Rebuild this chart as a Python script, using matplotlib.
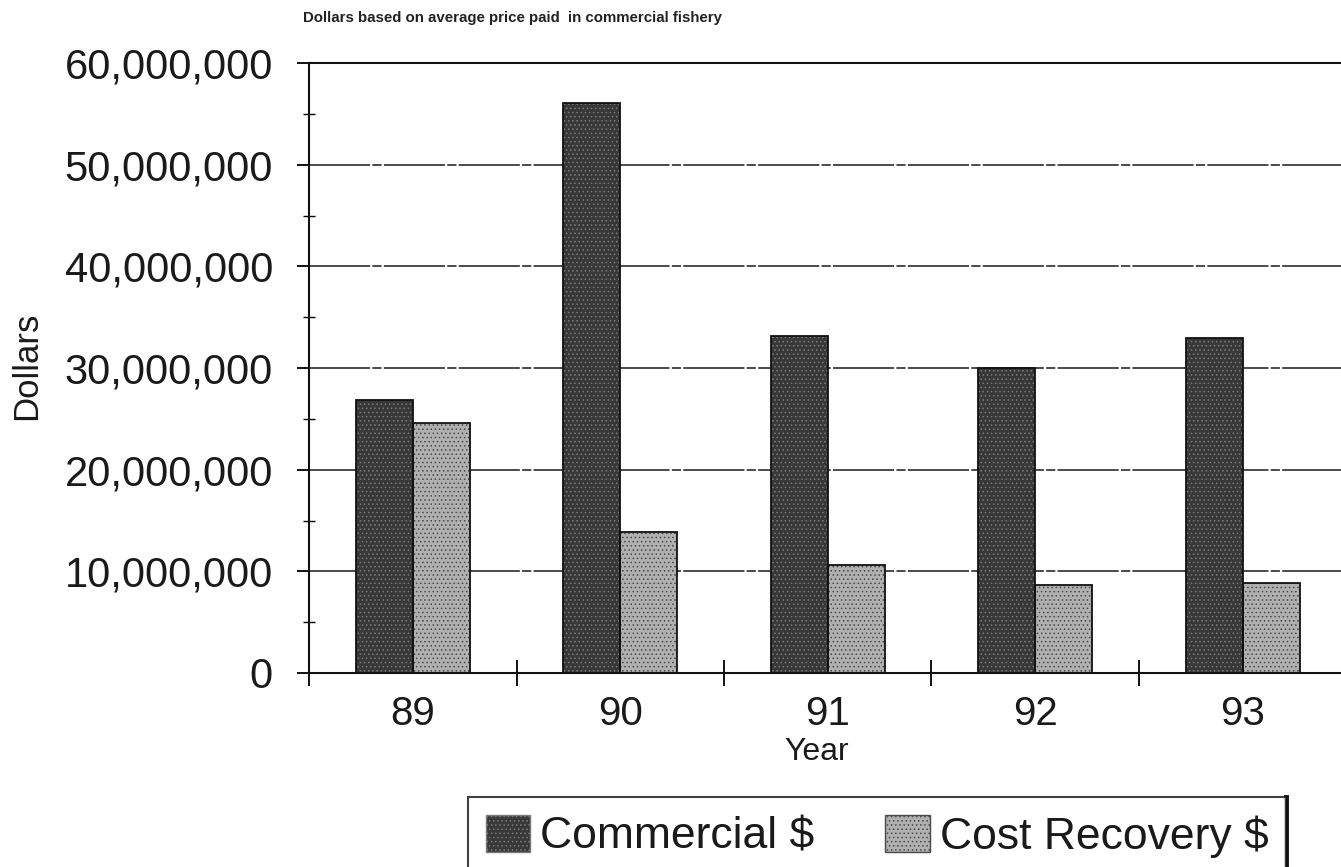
import numpy as np
import matplotlib
matplotlib.use("Agg")
from matplotlib import pyplot as plt
from matplotlib.ticker import FixedLocator, FuncFormatter
from matplotlib.patches import Patch

# data (dollars)
years = ["89", "90", "91", "92", "93"]
commercial = [26.9e6, 56.1e6, 33.1e6, 30.0e6, 33.0e6]
cost_recovery = [24.6e6, 13.9e6, 10.6e6, 8.65e6, 8.85e6]

plt.rcParams['font.family'] = ['Liberation Sans', 'DejaVu Sans']
plt.rcParams['hatch.linewidth'] = 0.6

W, H = 1341, 867
fig = plt.figure(figsize=(W / 100, H / 100), dpi=100)
fig.patch.set_facecolor('white')

# axes placed in pixel terms
left, right, top, bottom = 309, 1346.5, 63, 673
ax = fig.add_axes([left / W, 1 - bottom / H, (right - left) / W, (bottom - top) / H])

x = np.arange(len(years))
bw = 0.275

# hatched fills
ax.bar(x - bw / 2, commercial, bw, color='#383838', hatch='....', edgecolor='#7a7a7a', linewidth=0, zorder=2)
ax.bar(x + bw / 2, cost_recovery, bw, color='#b0b0b0', hatch='....', edgecolor='#4a4a4a', linewidth=0, zorder=2)
# outlines
ax.bar(x - bw / 2, commercial, bw, fill=False, edgecolor='#111111', linewidth=1.3, zorder=3)
ax.bar(x + bw / 2, cost_recovery, bw, fill=False, edgecolor='#111111', linewidth=1.3, zorder=3)

ax.set_xlim(-0.5, len(years) - 0.5)
ax.set_ylim(0, 60e6)

# y axis
ax.yaxis.set_major_locator(FixedLocator(np.arange(0, 60e6 + 1, 10e6)))
ax.yaxis.set_minor_locator(FixedLocator(np.arange(5e6, 60e6, 10e6)))
ax.yaxis.set_major_formatter(FuncFormatter(lambda v, p: f"{int(v):,}"))
ax.tick_params(axis='y', which='major', direction='out', length=9, width=1.3,
               labelsize=30, pad=17, labelcolor='#1a1a1a')
ax.tick_params(axis='y', which='minor', direction='inout', length=9, width=1.0)
ax.yaxis.grid(True, which='major', color='#1a1a1a', linewidth=1.1, linestyle=(0, (40, 1.5, 6, 1.5)))
ax.set_axisbelow(True)

# x axis: labels at centers, tick marks at category boundaries
ax.set_xticks(x)
ax.set_xticklabels(years)
ax.xaxis.set_minor_locator(FixedLocator(np.arange(-0.5, len(years), 1.0)))
ax.tick_params(axis='x', which='major', length=0, labelsize=29, pad=16, labelcolor='#1a1a1a')
ax.tick_params(axis='x', which='minor', direction='inout', length=19, width=1.3)

for s in ['left', 'bottom', 'top']:
    ax.spines[s].set_linewidth(1.5)
    ax.spines[s].set_color('#111111')
ax.spines['right'].set_visible(False)

fig.text(303 / W, 1 - 18 / H, "Dollars based on average price paid  in commercial fishery",
         fontsize=10.8, fontweight='bold', va='center', ha='left', color='#222222')
fig.text(27 / W, 1 - 366 / H, "Dollars", fontsize=25, rotation=90, va='center', ha='center',
         color='#1a1a1a')
fig.text(817 / W, 1 - 752 / H, "Year", fontsize=23, va='center', ha='center', color='#1a1a1a')

handles = [
    Patch(facecolor='#383838', hatch='....', edgecolor='#7a7a7a', label='Commercial $'),
    Patch(facecolor='#b0b0b0', hatch='....', edgecolor='#4a4a4a', label='Cost Recovery $'),
]
leg = fig.legend(handles=handles, loc='upper left', bbox_to_anchor=(468 / W, 1 - 797 / H),
                 ncol=2, fontsize=32, frameon=True, fancybox=False, shadow=False,
                 borderpad=0.4, handlelength=1.0, handleheight=0.9,
                 handletextpad=0.22, columnspacing=1.6, borderaxespad=0)
leg.get_frame().set_edgecolor('#111111')
leg.get_frame().set_linewidth(1.5)
for t in leg.get_texts():
    t.set_color('#1a1a1a')

# heavier right edge of the legend box, as in the scan
fig.canvas.draw()
bb = leg.get_window_extent().transformed(fig.transFigure.inverted())
fig.add_artist(plt.Line2D([bb.x1, bb.x1], [bb.y0, bb.y1], transform=fig.transFigure,
                          color='#111111', linewidth=3.5))

fig.savefig("out.png", dpi=100, facecolor='white')
